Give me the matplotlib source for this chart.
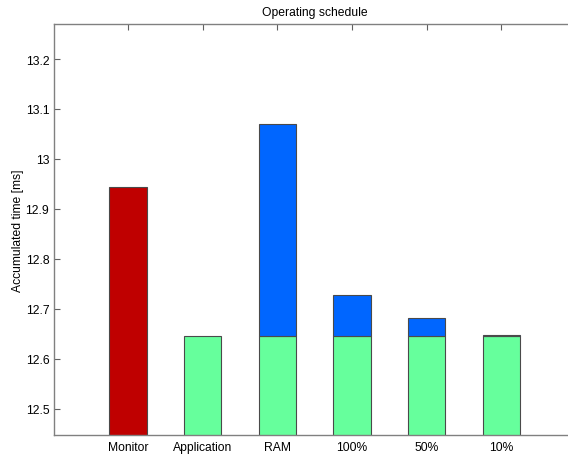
import matplotlib
matplotlib.use("Agg")
import matplotlib.pyplot as plt
import numpy as np

plt.rcParams['font.family'] = ['Liberation Sans', 'DejaVu Sans']

categories = ["Monitor", "Application", "RAM", "100%", "50%", "10%"]
monitor_value = [12.944, 0, 0, 0, 0, 0]
base_values = [0, 12.647, 12.647, 12.647, 12.647, 12.647]
extra_values = [0, 0, 0.422, 0.081, 0.036, 0.0015]

fig = plt.figure(figsize=(5.68, 4.56), dpi=100)
W, H = 568, 456
left, right, top, bottom = 53.5, 576, 24.5, 436
ax = fig.add_axes([left / W, 1 - bottom / H, (right - left) / W, (bottom - top) / H])

x = np.arange(1, len(categories) + 1)
edge = '#4a4a4a'
ax.bar(x[:1], monitor_value[:1], width=0.5, color='#BF0000', edgecolor=edge, linewidth=0.8)
ax.bar(x[1:], base_values[1:], width=0.5, color='#66FF9C', edgecolor=edge, linewidth=0.8)
ax.bar(x[2:], extra_values[2:], bottom=base_values[2:], width=0.5, color='#0066FF',
       edgecolor=edge, linewidth=0.8)

ax.set_xlim(0, 7)
ax.set_ylim(12.448, 13.271)
ax.set_xticks(x)
ax.set_xticklabels(categories)
ax.set_yticks([12.5, 12.6, 12.7, 12.8, 12.9, 13.0, 13.1, 13.2])
ax.set_yticklabels(['12.5', '12.6', '12.7', '12.8', '12.9', '13', '13.1', '13.2'])
ax.tick_params(direction='in', length=4, width=0.8, color='#606060', labelsize=8.7,
               top=True, right=True, pad=3)
ax.tick_params(axis='x', which='major', bottom=True, length=0, pad=4)
for t in ax.xaxis.get_major_ticks():
    t.tick2line.set_markersize(4)
for s in ax.spines.values():
    s.set_color('#808080')
    s.set_linewidth(1.0)
ax.set_title('Operating schedule', fontsize=8.7, pad=6)
ax.set_ylabel('Accumulated time [ms]', fontsize=8.7, labelpad=1)

fig.savefig('out.png', dpi=100)
